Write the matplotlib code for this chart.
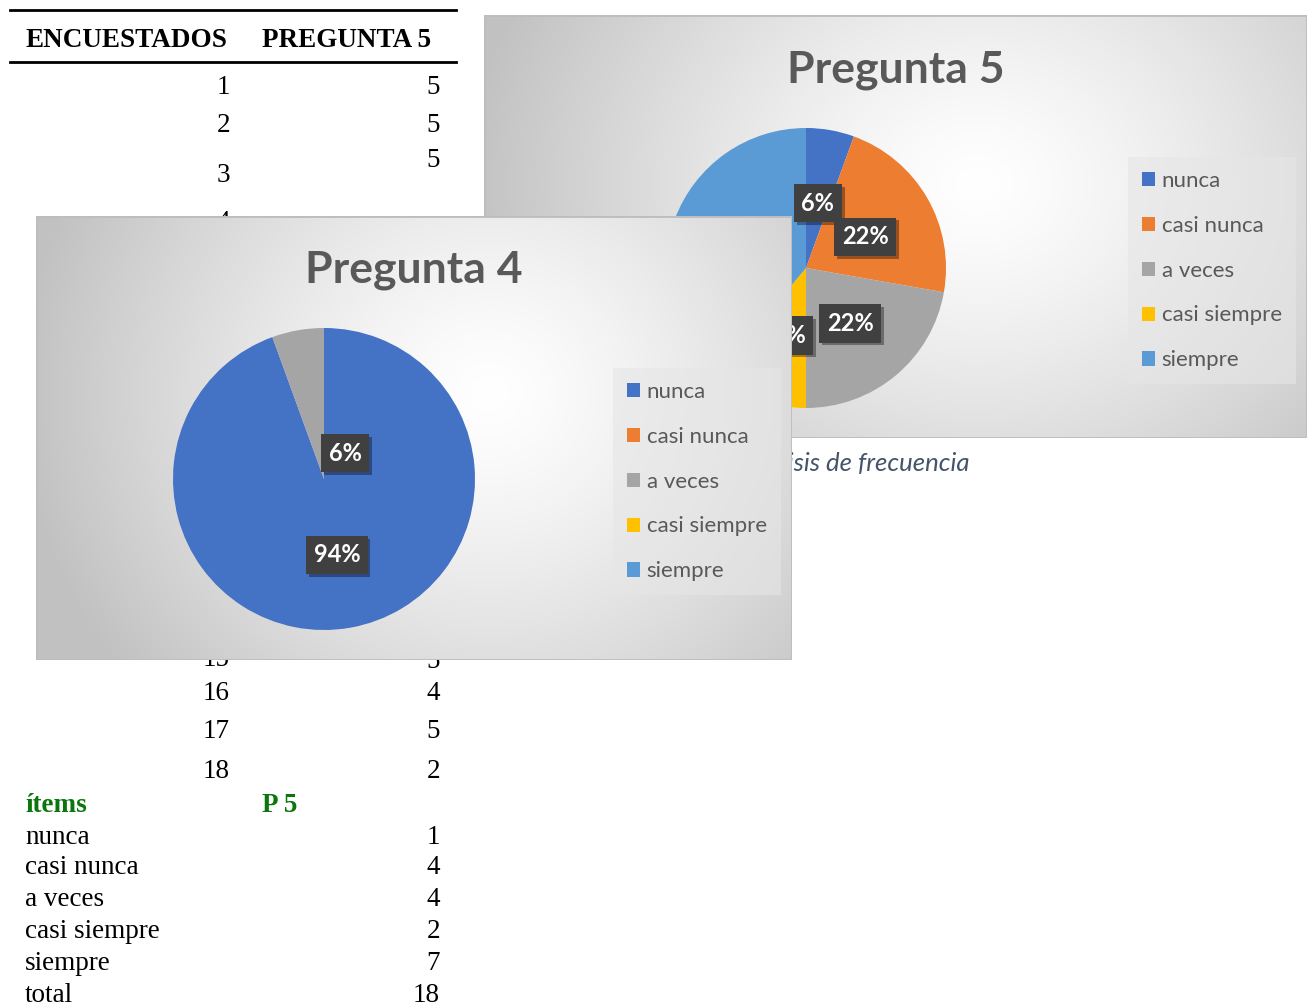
import numpy as np
import matplotlib
matplotlib.use("Agg")
import matplotlib.pyplot as plt
from matplotlib.patches import Patch, Rectangle
import matplotlib.patheffects as pe

categorias = ['nunca', 'casi nunca', 'a veces', 'casi siempre', 'siempre']
colores = ['#4472C4', '#ED7D31', '#A5A5A5', '#FFC000', '#5B9BD5']
pregunta5 = [1, 4, 4, 2, 7]
pregunta4 = [17, 0, 1, 0, 0]

# rows of the answer table that are still visible (the rest is under the charts)
encuestados = [1, 2, 3, 4, 15, 16, 17, 18]
respuestas = [5, 5, 5, 5, 5, 4, 5, 2]

W, H = 1311, 1006
fig = plt.figure(figsize=(W / 100, H / 100), dpi=100)

# ---- table in the background (pixel coordinates, y down)
base = fig.add_axes([0, 0, 1, 1], zorder=0)
base.set_xlim(0, W)
base.set_ylim(H, 0)
base.axis('off')

serif = 'Liberation Serif'
verde = '#0B760B'
fs = 19.5
dy = 3  # visual centring of serif text
base.plot([10, 456], [10, 10], color='black', lw=2)
base.plot([10, 456], [62, 62], color='black', lw=2)
base.text(25, 37 + dy, 'ENCUESTADOS', family=serif, weight='bold', fontsize=fs, va='center')
base.text(262, 37 + dy, 'PREGUNTA 5', family=serif, weight='bold', fontsize=fs, va='center')

y_izq = [84, 122, 172, 219, 657, 691, 729, 768]
y_der = [84, 122, 157, 225, 659, 691, 729, 768]
for n, r, yi, yd in zip(encuestados, respuestas, y_izq, y_der):
    base.text(230, yi + dy, str(n), family=serif, fontsize=fs, ha='right', va='center')
    base.text(440, yd + dy, str(r), family=serif, fontsize=fs, ha='right', va='center')

base.text(25, 803 + dy, 'ítems', family=serif, weight='bold', fontsize=fs, va='center', color=verde)
base.text(262, 803 + dy, 'P 5', family=serif, weight='bold', fontsize=fs, va='center', color=verde)
y_items = [834, 865, 897, 929, 961]
for cat, v, yy in zip(categorias, pregunta5, y_items):
    base.text(25, yy + dy, cat, family=serif, fontsize=fs, va='center')
    base.text(440, yy + dy, str(v), family=serif, fontsize=fs, ha='right', va='center')
base.text(25, 992 + dy, 'total', family=serif, fontsize=fs, va='center')
base.text(440, 992 + dy, str(sum(pregunta5)), family=serif, fontsize=fs, ha='right', va='center')

base.text(970, 463, 'Análisis de frecuencia', family='Lato', style='italic',
          fontsize=18.5, color='#44546A', ha='right', va='center')


def panel(x0, y0, x1, y1, z):
    w, h = x1 - x0, y1 - y0
    ax = fig.add_axes([x0 / W, 1 - y1 / H, w / W, h / H], zorder=z)
    uu, vv = np.meshgrid(np.linspace(0, 1, 300), np.linspace(0, 1, 300))
    t = np.hypot((uu - 0.6) / 0.62, (vv - 0.6) / 1.0)
    c = 1 - 0.24 * np.clip(t, 0, 1) ** 1.3
    img = np.dstack([c, c, c])
    ax.imshow(img, extent=(0, w, h, 0), aspect='auto', zorder=0, interpolation='bilinear')
    ax.add_patch(Rectangle((0, 0), w, h, fill=False, ec='#bdbdbd', lw=2, zorder=6))
    return ax, w, h


def pastel(ax, w, h, valores, cx, cy, r, titulo, ty, leg_xy):
    wedges, _, autos = ax.pie(valores, colors=colores, startangle=90, counterclock=False,
                              center=(cx, h - cy), radius=r, frame=True,
                              autopct=lambda p: f'{p:.0f}%' if p > 0 else '',
                              pctdistance=0.49, wedgeprops=dict(linewidth=0))
    for t in autos:
        t.set(color='white', fontsize=17, weight='bold', family='Lato', zorder=4)
        t.set_bbox(dict(boxstyle='square,pad=0.32', fc='#404040', ec='none'))
        t.get_bbox_patch().set_path_effects(
            [pe.withSimplePatchShadow(offset=(2, -2), shadow_rgbFace='black', alpha=0.35)])
        x, y = t.get_position()
        t.set_position((x, y - 3))
    ax.set_xlim(0, w)
    ax.set_ylim(0, h)
    ax.axis('off')
    ax.text(w / 2, h - ty - 2, titulo, ha='center', va='center', fontsize=32,
            weight='bold', family='Lato', color='#595959')
    handles = [Patch(facecolor=c, edgecolor='none') for c in colores]
    leg = ax.legend(handles, categorias, loc='upper left',
                    bbox_to_anchor=(leg_xy[0], h - leg_xy[1]), bbox_transform=ax.transData,
                    borderaxespad=0, prop=dict(family='Lato', size=16), labelcolor='#595959',
                    frameon=True, fancybox=False, facecolor='#e6e6e6', edgecolor='none',
                    framealpha=0.6, handlelength=0.6, handleheight=0.6, handletextpad=0.3,
                    labelspacing=1.12, borderpad=0.62)
    leg.set_zorder(5)
    return autos


# ---- Pregunta 5 panel
ax5, w5, h5 = panel(484, 15, 1307, 438, 1)
pastel(ax5, w5, h5, pregunta5, 806 - 484, 268 - 15, 140, 'Pregunta 5', 68 - 15,
       (1128 - 484, 157 - 15))

# ---- Pregunta 4 panel (on top)
ax4, w4, h4 = panel(36, 216, 792, 660, 2)
autos4 = pastel(ax4, w4, h4, pregunta4, 324 - 36, 479 - 216, 151, 'Pregunta 4', 268 - 216,
                (613 - 36, 368 - 216))
# the small slice label is pushed off its wedge like in Excel
cx4, cy4 = 324 - 36, h4 - (479 - 216)
autos4[2].set_position((cx4 + 0.14 * 151, cy4 + 0.17 * 151))

fig.savefig('out.png', dpi=100)
